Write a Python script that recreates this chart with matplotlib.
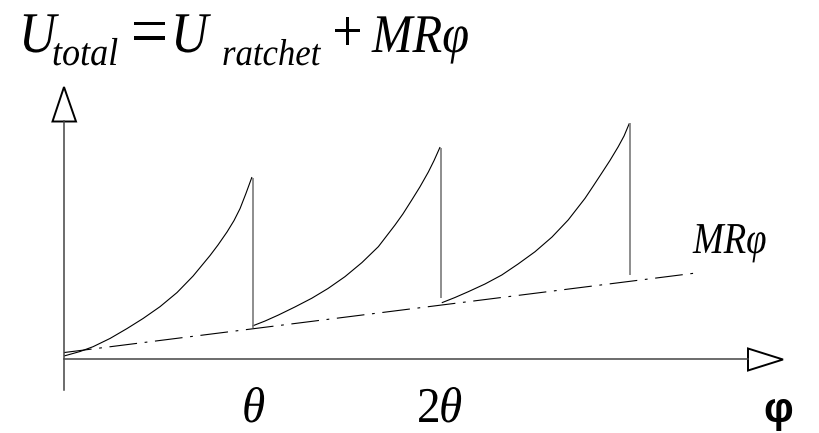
import matplotlib
matplotlib.use("Agg")
import matplotlib.pyplot as plt
from matplotlib.patches import Polygon
from matplotlib.patheffects import AbstractPathEffect
from matplotlib.transforms import Affine2D

plt.rcParams['lines.scale_dashes'] = False

# ---- data (x in units of theta, y in energy units) ----
seg1_x = [0.0, 0.085, 0.154, 0.244, 0.334, 0.419, 0.509, 0.599, 0.684,
          0.774, 0.816, 0.864, 0.901, 0.933, 0.964, 0.996]
seg1_y = [0.0, 0.030, 0.062, 0.117, 0.183, 0.250, 0.329, 0.423, 0.533,
          0.670, 0.740, 0.827, 0.903, 0.983, 1.083, 1.193]
seg2_x = [0.998, 1.065, 1.136, 1.224, 1.313, 1.399, 1.489, 1.579, 1.666,
          1.754, 1.796, 1.843, 1.886, 1.931, 1.961, 1.993]
seg2_y = [0.200, 0.233, 0.273, 0.327, 0.385, 0.450, 0.529, 0.623, 0.729,
          0.873, 0.947, 1.040, 1.127, 1.227, 1.303, 1.393]
seg3_x = [2.002, 2.072, 2.143, 2.231, 2.320, 2.406, 2.496, 2.586, 2.672,
          2.761, 2.803, 2.849, 2.893, 2.937, 2.968, 2.996]
seg3_y = [0.355, 0.390, 0.429, 0.480, 0.540, 0.613, 0.695, 0.793, 0.907,
          1.051, 1.130, 1.218, 1.303, 1.395, 1.467, 1.551]
drop_x = [1.0, 2.0, 3.0]
drop_top = [1.187, 1.387, 1.553]
drop_bot = [0.187, 0.387, 0.540]
mr_x = [0.0, 3.36]
mr_y = [0.023, 0.555]


class VStretch(AbstractPathEffect):
    """Stretch glyphs vertically about their baseline."""
    def __init__(self, sy):
        super().__init__()
        self.sy = sy

    def draw_path(self, renderer, gc, tpath, affine, rgbFace=None):
        m = affine.get_matrix().copy()
        m[1, 0] *= self.sy
        m[1, 1] *= self.sy
        renderer.draw_path(gc, tpath, Affine2D(m), rgbFace)


W, H = 819, 433
fig = plt.figure(figsize=(W / 100, H / 100), dpi=100)

# main axes in theta units: x px = 64 + 188.7*x ; y px = 356 - 150*y
ax = fig.add_axes([0, 0, 1, 1])
ax.set_xlim(-64 / 188.7, (W - 64) / 188.7)
ax.set_ylim((356 - H) / 150, 356 / 150)
ax.axis('off')

for xs, ys in [(seg1_x, seg1_y), (seg2_x, seg2_y), (seg3_x, seg3_y)]:
    ax.plot(xs, ys, color='black', lw=0.8, solid_capstyle='butt',
            solid_joinstyle='round')
ax.vlines(drop_x, drop_bot, drop_top, color='#7a7a7a', lw=1.2)
ax.plot(mr_x, mr_y, color='black', lw=0.8,
        linestyle=(0, (20, 5.5, 2, 5.5)))

# overlay in pixel coordinates for axes, arrows and texts
ov = fig.add_axes([0, 0, 1, 1], facecolor='none')
ov.set_xlim(0, W)
ov.set_ylim(H, 0)
ov.axis('off')

axis_col = '#444444'
ov.plot([64, 64], [390, 121], color=axis_col, lw=1.1)
ov.plot([64, 748], [359, 359], color=axis_col, lw=1.1)
ov.add_patch(Polygon([[52.5, 121.5], [76, 121.5], [64, 87]], closed=True,
                     facecolor='white', edgecolor='black', lw=1.4))
ov.add_patch(Polygon([[748, 348.5], [748, 370.5], [783, 359.5]], closed=True,
                     facecolor='white', edgecolor='black', lw=1.4))

serif = dict(family='Liberation Serif', style='italic', color='black',
             ha='left', va='baseline')
upright = dict(family='Liberation Serif', color='black',
               ha='left', va='baseline')
st_big = [VStretch(1.12)]
st_small = [VStretch(1.08)]
st_theta = [VStretch(1.06)]

ov.text(19, 52, 'U', fontsize=37, path_effects=st_big, **serif)
ov.text(52, 65, 'total', fontsize=26, path_effects=st_small, **serif)
ov.text(131, 55, '=', fontsize=47, path_effects=st_big, **upright)
ov.text(171, 52, 'U', fontsize=37, path_effects=st_big, **serif)
ov.text(222, 65, 'ratchet', fontsize=25, path_effects=st_small, **serif)
ov.text(332, 51, '+', fontsize=39, path_effects=st_big, **upright)
ov.text(372, 52, 'MRφ', fontsize=35, path_effects=st_big, **serif)

ov.text(693, 253, 'MRφ', fontsize=26.5, path_effects=[VStretch(1.2)], **serif)
ov.text(242, 422, 'θ', fontsize=34, path_effects=st_theta, **serif)
ov.text(417, 422, '2', fontsize=34, path_effects=st_theta, **upright)
ov.text(439, 422, 'θ', fontsize=34, path_effects=st_theta, **serif)
ov.text(763, 422, 'φ', fontsize=30, ha='left', va='baseline',
        family='Liberation Sans', weight='bold', color='black')

fig.savefig('out.png', dpi=100)
